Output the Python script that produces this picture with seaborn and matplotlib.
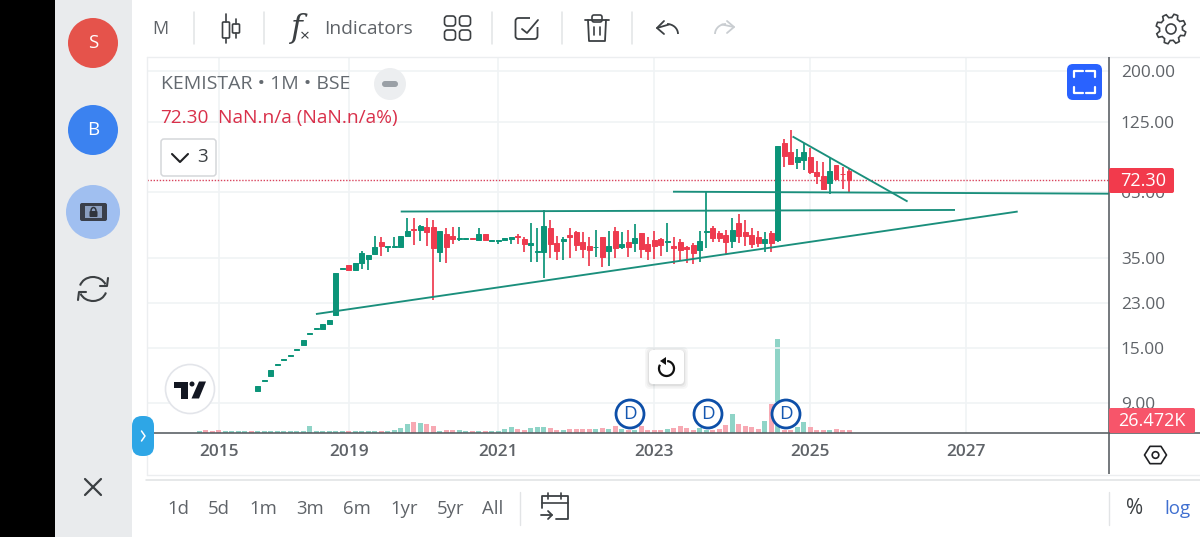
import numpy as np
import pandas as pd
import seaborn as sns
import matplotlib
matplotlib.use('Agg')
import matplotlib.pyplot as plt
from matplotlib.patches import Circle, FancyBboxPatch, Rectangle, Arc, Polygon
from matplotlib.ticker import FixedLocator, FixedFormatter, NullLocator

# monthly candles start at bar 9, the earlier bars only have volume
first_candle = 9
opens = [10.0, 11.0, 11.6, 12.8, 13.4, 14.0, 14.8, 15.4, 17.2, 18.0,
         17.9, 18.8, 20.4, 31.5, 32.7, 31.3, 33.4, 34.6, 36.3, 40.7,
         38.6, 38.7, 38.8, 42.9, 45.7, 45.4, 46.6, 46.6, 37.0, 43.7,
         43.0, 41.5, 41.5, 41.9, 41.1, 43.7, 41.0, 41.0, 41.2, 41.7,
         42.9, 41.8, 39.5, 36.9, 36.9, 46.4, 40.2, 40.9, 43.4, 44.6,
         40.4, 38.9, 38.5, 42.3, 37.4, 44.8, 38.8, 40.4, 40.2, 43.9,
         39.9, 41.3, 41.8, 40.4, 39.1, 40.7, 38.6, 39.5, 37.5, 44.6,
         46.4, 43.9, 43.4, 40.8, 48.6, 44.6, 43.4, 42.4, 40.2, 43.9,
         41.1, 102.0, 94.5, 85.3, 87.7, 89.6, 78.2, 74.9, 70.3, 83.0,
         76.7, 78.7]
highs = [10.5, 11.1, 12.2, 12.9, 13.5, 14.1, 14.9, 16.2, 17.3, 18.1,
         18.8, 19.6, 30.3, 31.7, 32.7, 33.4, 37.2, 35.8, 42.8, 42.6,
         39.0, 42.6, 42.9, 50.7, 50.7, 47.4, 50.9, 49.6, 45.1, 46.0,
         46.5, 46.6, 42.1, 42.1, 46.0, 43.7, 41.4, 41.1, 42.0, 42.6,
         43.7, 42.6, 48.3, 46.3, 54.7, 49.6, 43.0, 42.4, 46.0, 44.8,
         44.4, 42.6, 45.4, 42.6, 44.8, 46.6, 44.3, 45.3, 48.1, 43.9,
         42.4, 45.1, 42.2, 48.5, 42.6, 41.7, 39.2, 40.1, 45.1, 65.0,
         46.9, 45.1, 45.5, 50.9, 52.6, 49.6, 46.2, 44.8, 44.6, 45.1,
         100.0, 106.0, 116.0, 96.4, 102.0, 97.9, 86.9, 86.0, 88.6, 83.6,
         82.0, 79.9]
lows = [10.0, 11.0, 11.6, 12.8, 13.4, 14.0, 14.8, 15.4, 17.2, 18.0,
        17.9, 18.8, 20.4, 31.5, 31.3, 31.3, 31.6, 31.2, 35.8, 35.4,
        36.9, 38.7, 38.8, 42.9, 39.4, 40.8, 38.9, 23.6, 33.7, 33.4,
        39.9, 40.8, 41.3, 41.3, 41.1, 41.1, 41.0, 39.9, 41.2, 39.9,
        39.9, 36.8, 33.7, 33.6, 28.9, 34.9, 34.1, 34.1, 35.0, 37.1,
        35.0, 32.5, 35.2, 32.1, 32.5, 35.0, 38.1, 35.2, 36.9, 35.0,
        34.1, 34.7, 35.7, 36.9, 33.0, 34.1, 33.2, 33.0, 33.7, 38.2,
        40.5, 40.5, 36.3, 38.2, 40.1, 39.2, 38.2, 38.6, 36.9, 36.9,
        40.5, 81.7, 84.0, 79.9, 79.2, 76.4, 70.0, 66.0, 63.5, 72.1,
        66.4, 64.0]
closes = [10.5, 11.1, 12.2, 12.9, 13.5, 14.1, 14.9, 16.2, 17.3, 18.1,
          18.8, 19.6, 30.3, 31.7, 31.3, 33.4, 36.4, 35.8, 38.6, 38.9,
          39.0, 39.1, 42.9, 45.1, 45.3, 47.1, 44.4, 38.4, 44.8, 38.6,
          41.5, 42.0, 41.9, 41.5, 43.7, 41.1, 41.4, 41.1, 42.0, 42.5,
          42.5, 39.6, 40.0, 37.2, 47.0, 39.9, 37.1, 41.7, 42.6, 39.4,
          37.8, 37.7, 38.8, 35.1, 39.1, 38.4, 39.7, 38.8, 42.2, 38.1,
          37.3, 39.1, 39.4, 40.8, 38.2, 37.5, 38.1, 36.7, 41.0, 44.9,
          42.2, 42.0, 40.7, 45.5, 42.9, 43.0, 39.7, 40.2, 41.5, 40.2,
          100.0, 90.9, 84.1, 89.6, 94.1, 78.0, 74.9, 66.8, 78.5, 73.4,
          76.4, 72.3]

# volume in thousands, all bars
volumes = [16, 21, 18, 21, 16, 16, 16, 16, 16,
           16, 16, 16, 16, 16, 16, 16, 16, 58,
           16, 16, 16, 16, 16, 16, 16, 16, 16, 16, 16, 16,
           21, 37, 72, 87, 82, 74, 53, 18, 26, 21,
           21, 16, 16, 16, 16, 16, 16, 32, 50, 29,
           24, 40, 50, 50, 40, 26, 21, 32, 32, 29,
           29, 29, 37, 29, 53, 32, 21, 21, 53, 21,
           26, 26, 32, 42, 53, 40, 26, 37, 21, 21,
           32, 61, 154, 74, 58, 45, 34, 95, 233, 745,
           21, 21, 45, 87, 45, 26, 26, 26, 32, 21, 26.472]
early_dirs = ['up', 'down', 'down', 'down', 'up', 'up', 'up', 'up', 'down']

year_bars = [3, 23, 46, 70, 94, 118]
year_labels = ['2015', '2019', '2021', '2023', '2025', '2027']
price_ticks = [200, 125, 65, 35, 23, 15, 9]

# drawn trend lines: bar positions and prices of the end points
trend_bars = [(17.95, 125.95), (31.0, 116.3), (72.9, 140.0), (91.3, 109.0)]
trend_prices = [(20.65, 53.9), (53.9, 54.7), (64.9, 63.7), (108.8, 59.2)]

UP = '#0b9478'
DOWN = '#ee3b4f'
VOL_UP = '#8fd4c7'
VOL_DOWN = '#f7a9b3'
TREND = '#1a8f7c'
GRID = '#f0f3f5'
TEXT = '#5f6368'
DARK = '#3c4043'

sns.set_theme(style='white')
plt.rcParams['font.family'] = ['Open Sans', 'DejaVu Sans']

fig = plt.figure(figsize=(12, 5.37), dpi=100, facecolor='white')
# pane runs from x 147 to 1109 and y 57 to 433 in pixels
pane = [147 / 1200, 1 - 433 / 537, (1109 - 147) / 1200, (433 - 57) / 537]
vax = fig.add_axes(pane)
ax = vax.twinx()
ax.set_zorder(vax.get_zorder() + 1)
ax.patch.set_visible(False)

# volume
bars = np.arange(len(volumes))
dirs = list(early_dirs)
for o, c in zip(opens, closes):
    dirs.append('up' if c >= o else 'down')
vol_df = pd.DataFrame({'bar': bars, 'volume': volumes, 'dir': dirs})
sns.barplot(data=vol_df, x='bar', y='volume', hue='dir', dodge=False, native_scale=True,
            palette={'up': VOL_UP, 'down': VOL_DOWN}, saturation=1, width=0.78,
            linewidth=0, edgecolor='none', legend=False, ax=vax)
vax.set_ylim(0, 2986)
vax.set_xlabel('')
vax.set_ylabel('')
vax.set_yticks([])

# candles
candle_x = np.arange(len(opens)) + first_candle
o = np.array(opens)
c = np.array(closes)
colors = [UP if a >= b else DOWN for a, b in zip(c, o)]
ax.set_yscale('log')
ax.vlines(candle_x, lows, highs, colors=colors, linewidth=1.25, zorder=3)
ax.bar(candle_x, np.abs(c - o), bottom=np.minimum(o, c), width=0.74, color=colors,
       edgecolor=colors, linewidth=0.7, zorder=4)

ax.axhline(closes[-1], color='#d8435c', linestyle=(0, (1, 1.2)), linewidth=1.0, zorder=2)
for tb, tp in zip(trend_bars, trend_prices):
    ax.plot(tb, tp, color=TREND, linewidth=1.35, zorder=5, solid_capstyle='butt')

for a in (ax, vax):
    a.set_xlim(-8.05, 140.0)
ax.set_ylim(6.78, 229)
ax.yaxis.set_major_locator(FixedLocator(price_ticks))
ax.yaxis.set_major_formatter(FixedFormatter(['%.2f' % p for p in price_ticks]))
ax.yaxis.set_minor_locator(NullLocator())
ax.tick_params(axis='y', which='both', length=0, pad=8.5, labelsize=12.4, labelcolor=TEXT,
               right=False, labelright=True, left=False, labelleft=False)
ax.grid(True, axis='y', color=GRID, linewidth=1.2, zorder=0)
vax.set_xticks(year_bars)
vax.set_xticklabels(year_labels, fontsize=12.4, color=TEXT, fontweight='semibold')
vax.tick_params(axis='x', length=0, pad=8)
vax.grid(True, axis='x', color=GRID, linewidth=1.2)
vax.set_axisbelow(True)
ax.set_axisbelow(True)
for a in (ax, vax):
    for side in a.spines:
        a.spines[side].set_visible(False)
ax.spines['bottom'].set_visible(True)
ax.spines['bottom'].set_color('#555b60')
ax.spines['bottom'].set_linewidth(1.15)

# app chrome on a pixel-sized overlay
ui = fig.add_axes([0, 0, 1, 1], zorder=20)
ui.set_xlim(0, 1200)
ui.set_ylim(537, 0)
ui.axis('off')
ui.patch.set_visible(False)


def line(xs, ys, color=DARK, lw=1.3, z=5, cap='round'):
    ui.plot(xs, ys, color=color, linewidth=lw, zorder=z, solid_capstyle=cap, solid_joinstyle='round')


def rbox(x0, y0, x1, y1, r, fc, ec='none', lw=1.0, z=3):
    ui.add_patch(FancyBboxPatch((x0 + r, y0 + r), x1 - x0 - 2 * r, y1 - y0 - 2 * r,
                                boxstyle='round,pad=%f,rounding_size=%f' % (r, r),
                                fc=fc, ec=ec, lw=lw, zorder=z))


def label(x, y, s, color=TEXT, size=13.3, ha='center', z=6, **kw):
    ui.text(x, y, s, color=color, fontsize=size, ha=ha, va='center', zorder=z, **kw)


# sidebar and frame
ui.add_patch(Rectangle((0, 0), 55, 537, fc='black', ec='none', zorder=1))
ui.add_patch(Rectangle((55, 0), 77, 537, fc='#e9ebed', ec='none', zorder=1))
line([147, 147], [57, 475], color='#eceef0', lw=1, z=2)
line([147, 1200], [57, 57], color='#eceef0', lw=1, z=2)
line([147, 1200], [474.5, 474.5], color='#eceef0', lw=1, z=2)
line([146, 1200], [479.5, 479.5], color='#dfe1e3', lw=1.1, z=2)
line([1109, 1109], [57, 474], color='#5c6166', lw=1.2, z=2, cap='butt')
line([1109, 1200], [433, 433], color='#555b60', lw=1.15, z=2, cap='butt')

ui.add_patch(Circle((93, 43), 25, fc='#e5534b', ec='none', zorder=3))
label(93, 43, 'S', color='white', size=13.5)
ui.add_patch(Circle((93, 130), 25, fc='#3b82f0', ec='none', zorder=3))
label(93, 130, 'B', color='white', size=13.5)
ui.add_patch(Circle((93, 212), 27, fc='#a0bff0', ec='none', zorder=3))
rbox(80, 203, 107, 221, 2, '#3a3f4a', z=4)
ui.add_patch(Rectangle((85, 206), 17, 12, fc='#8b9fc0', ec='none', zorder=5))
rbox(89.5, 211, 97.5, 217, 1, '#30343c', z=6)
ui.add_patch(Arc((93.5, 211), 5, 7, theta1=180, theta2=360, ec='#30343c', lw=1.1, zorder=6))
# refresh
ui.add_patch(Arc((93, 289), 27, 24, theta1=195, theta2=340, ec=DARK, lw=1.5, zorder=4))
ui.add_patch(Arc((93, 289), 27, 24, theta1=15, theta2=160, ec=DARK, lw=1.5, zorder=4))
line([100, 107, 108], [286, 286, 278], lw=1.5)
line([86, 79, 78], [292, 292, 300], lw=1.5)
line([85, 101], [479, 495], lw=1.6)
line([101, 85], [479, 495], lw=1.6)

# top toolbar
label(160, 29, 'M', size=13)
for sx in (194, 264, 492, 562, 632):
    line([sx, sx], [12, 44], color='#e2e4e6', lw=1.1, z=2)
for cx, top, bot, y0, y1 in ((226, 22, 38, 14, 43), (236, 24, 33, 19, 38)):
    rbox(cx - 3.5, top, cx + 3.5, bot, 1, 'white', ec=DARK, lw=1.2)
    line([cx, cx], [y0, top], lw=1.2)
    line([cx, cx], [bot, y1], lw=1.2)
label(297, 28, 'f', size=23, color=DARK, style='italic', family='DejaVu Serif')
label(305, 37, '×', size=12.5, color=DARK)
label(324, 29, 'Indicators', size=13.8, ha='left')
for gx in (450, 465):
    for gy in (21, 35):
        rbox(gx - 5.5, gy - 5, gx + 5.5, gy + 5, 3, 'white', ec=DARK, lw=1.2)
rbox(515.5, 18, 537.5, 39, 3, 'white', ec=DARK, lw=1.3)
ui.add_patch(Rectangle((530, 14), 9, 13, fc='white', ec='none', zorder=4))
line([522, 527, 538], [29, 33, 20], lw=1.3)
# trash
line([585, 609], [20, 20], lw=1.3)
rbox(592, 15, 602, 22, 2, 'white', ec=DARK, lw=1.2, z=2)
line([588, 589, 605, 606], [20, 41, 41, 20], lw=1.3)
line([594, 594], [27, 35], lw=1.2)
line([600, 600], [27, 35], lw=1.2)
# undo and redo
ui.add_patch(Arc((667, 34), 22, 20, theta1=270, theta2=360, ec=DARK, lw=1.3, zorder=4))
line([664, 657, 664], [21, 28, 34], lw=1.3)
line([657, 669], [28, 24.5], lw=1.3)
ui.add_patch(Arc((726, 34), 22, 20, theta1=180, theta2=270, ec='#c9cdd1', lw=1.3, zorder=4))
line([727, 734, 727], [21, 27, 33], color='#c9cdd1', lw=1.3)
line([734, 722], [27, 24.5], color='#c9cdd1', lw=1.3)
# settings gear
ang = np.linspace(0, 2 * np.pi, 48, endpoint=False)
rad = np.where((np.arange(48) % 6) < 3, 15, 11.5)
ui.add_patch(Polygon(np.c_[1171 + rad * np.cos(ang + 0.2), 29 + rad * np.sin(ang + 0.2)],
                     closed=True, fc='white', ec=DARK, lw=1.2, zorder=4))
ui.add_patch(Circle((1171, 29), 5, fc='white', ec=DARK, lw=1.2, zorder=5))

# legend block
label(161, 84, 'KEMISTAR • 1M • BSE', size=14.0, ha='left', color='#646a70')
ui.add_patch(Circle((390, 84), 16, fc='#eceef0', ec='none', zorder=3))
rbox(382, 81, 398, 87, 3, '#9aa0a6', z=4)
label(160, 118, '%.2f' % closes[-1], color='#d9304a', size=13.7, ha='left')
label(218, 118, 'NaN.n/a (NaN.n/a%)', color='#d9304a', size=13.8, ha='left')
rbox(161, 139, 216, 176, 3, 'white', ec='#d5d7da', lw=1.1)
line([172, 180, 188], [154, 162, 154], color='#202124', lw=1.5)
label(203, 157, '3', size=13.5, color=DARK)

# fullscreen button
rbox(1067, 64, 1102, 100, 6, '#2962ff')
for cx, cy, dx, dy in ((1074, 71, 1, 1), (1095, 71, -1, 1), (1074, 93, 1, -1), (1095, 93, -1, -1)):
    line([cx, cx, cx + 9 * dx], [cy + 6 * dy, cy, cy], color='white', lw=1.6)

# last value tags
rbox(1109, 168, 1174, 193, 2, '#f23a4c', z=7)
label(1143, 180.5, '%.2f' % closes[-1], color='white', size=13, z=8)
rbox(1109, 408, 1195, 433, 2, '#f7556a', z=7)
label(1152, 420.5, '%.3fK' % volumes[-1], color='white', size=13, z=8)

# dividend markers
for dx in (630, 708, 786):
    ui.add_patch(Circle((dx, 414), 14, fc='white', ec='#0d4fa8', lw=2.0, zorder=4))
    label(dx, 414, 'D', color='#1557b0', size=13.5)

# tradingview logo
ui.add_patch(Circle((190, 389), 24.5, fc='white', ec='#e3e5ea', lw=1.2, zorder=3))
ui.add_patch(Polygon([(174, 381.5), (188, 381.5), (188, 398.5), (181, 398.5), (181, 388), (174, 388)],
                     closed=True, fc='#131722', ec='none', zorder=4))
ui.add_patch(Circle((192, 384), 2.5, fc='#131722', ec='none', zorder=4))
ui.add_patch(Polygon([(199, 381.5), (206, 381.5), (199, 398.5), (191.5, 398.5)],
                     closed=True, fc='#131722', ec='none', zorder=4))

# reset button
for grow, alpha in ((4, 0.03), (2.5, 0.04), (1, 0.06)):
    rbox(649 - grow, 350 - grow + 1, 684 + grow, 384 + grow + 1, 5, 'black', z=3)
    ui.patches[-1].set_alpha(alpha)
rbox(649, 350, 684, 384, 4, 'white', z=4)
ui.add_patch(Arc((666.5, 368.5), 15, 15, theta1=-85, theta2=210, ec='#111', lw=1.6, zorder=5))
ui.add_patch(Polygon([(666, 357), (666, 365), (660, 361)], closed=True, fc='#111', ec='none', zorder=5))

# collapse tab
rbox(132, 416, 154, 456, 10, '#2ea6e6', z=7)
line([141.5, 145, 141.5], [431, 436, 441], color='white', lw=1.1, z=8)

# bottom bar
for x, s in zip((178, 219, 263, 310, 357, 404, 451, 493),
                ('1d', '5d', '1m', '3m', '6m', '1yr', '5yr', 'All')):
    label(x, 509, s, size=13.3)
line([520, 520], [492, 525], color='#e2e4e6', lw=1, z=2)
line([1109, 1109], [492, 525], color='#e2e4e6', lw=1, z=2)
line([542, 542, 568, 568, 556], [508, 496, 496, 519, 519], lw=1.3)
line([542, 568], [503, 503], lw=1.2)
line([548, 548], [493, 499], lw=1.2)
line([561, 561], [493, 499], lw=1.2)
line([541, 552], [515, 515], lw=1.3)
line([548, 552, 548], [511, 515, 519], lw=1.3)
label(1135, 509, '%', size=15, color=DARK)
label(1177, 509, 'log', size=13.5, color='#3f6fd0')
# hexagon settings
hang = np.deg2rad(np.arange(0, 360, 60))
ui.add_patch(Polygon(np.c_[1155.5 + 11 * np.cos(hang), 455 + 10 * np.sin(hang)], closed=True,
                     fc='white', ec='#202124', lw=1.2, zorder=4, joinstyle='round'))
ui.add_patch(Circle((1155.5, 455), 3.3, fc='white', ec='#202124', lw=1.2, zorder=5))

fig.savefig('out.png', dpi=100)
